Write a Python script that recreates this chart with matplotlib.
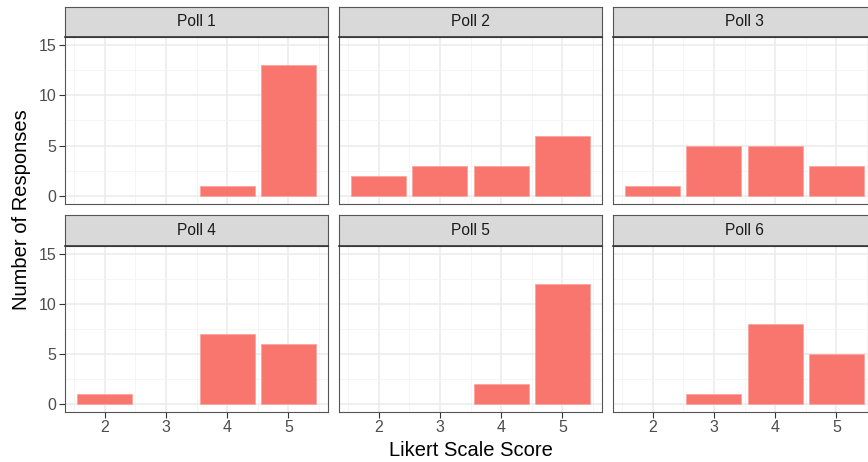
import numpy as np
import matplotlib
matplotlib.use('Agg')
import matplotlib.pyplot as plt

### Data ###

scores = [2, 3, 4, 5]
poll_names = ['Poll 1', 'Poll 2', 'Poll 3', 'Poll 4', 'Poll 5', 'Poll 6']
poll1 = [0, 0, 1, 13]
poll2 = [2, 3, 3, 6]
poll3 = [1, 5, 5, 3]
poll4 = [1, 0, 7, 6]
poll5 = [0, 0, 2, 12]
poll6 = [0, 1, 8, 5]
polls = [poll1, poll2, poll3, poll4, poll5, poll6]

### Style ###

plt.rcParams['font.family'] = ['Liberation Sans', 'DejaVu Sans']
W, H = 868, 462
fig = plt.figure(figsize=(W / 100, H / 100), dpi=100)

bar_color = '#F8766D'
border = '#333333'
grid_major = '#EBEBEB'
tick_text = '#4D4D4D'

# pixel layout of the panels (left, top/bottom of strip and panel)
col_left = [65, 339, 613]
panel_w = 263
rows = [(7, 37, 204), (215, 246, 412)]


def frac(left, top, width, height):
    return [left / W, 1 - (top + height) / H, width / W, height / H]


for i, (name, counts) in enumerate(zip(poll_names, polls)):
    r, c = divmod(i, 3)
    s_top, p_top, p_bot = rows[r]
    left = col_left[c]

    # Panel
    ax = fig.add_axes(frac(left, p_top, panel_w, p_bot - p_top))
    x = [s for s, n in zip(scores, counts) if n > 0]
    h = [n for n in counts if n > 0]
    ax.bar(x, h, width=0.9, color=bar_color, edgecolor='#FBA59F', linewidth=0.6, zorder=3)
    ax.set_xlim(1.355, 5.645)
    ax.set_ylim(-0.75, 15.75)
    ax.set_xticks(scores)
    ax.set_yticks([0, 5, 10, 15])
    ax.set_xticks([1.5, 2.5, 3.5, 4.5, 5.5], minor=True)
    ax.set_yticks([2.5, 7.5, 12.5], minor=True)
    ax.grid(True, which='major', color=grid_major, linewidth=1.1, zorder=0)
    ax.grid(True, which='minor', color='#F4F4F4', linewidth=0.6, zorder=0)
    ax.set_axisbelow(True)
    for sp in ax.spines.values():
        sp.set_color('#555555')
        sp.set_linewidth(0.8)
    ax.tick_params(which='minor', length=0)
    ax.tick_params(which='major', length=4, width=0.8, color=border,
                   labelcolor=tick_text, labelsize=11.5, pad=2)
    if c != 0:
        ax.tick_params(axis='y', length=0, labelleft=False)
    if r != 1:
        ax.tick_params(axis='x', length=0, labelbottom=False)

    # Strip
    sx = fig.add_axes(frac(left, s_top, panel_w, p_top - s_top))
    sx.set_facecolor('#D9D9D9')
    sx.set_xticks([])
    sx.set_yticks([])
    for sp in sx.spines.values():
        sp.set_color('#555555')
        sp.set_linewidth(0.8)
    sx.spines['bottom'].set_color(border)
    sx.spines['bottom'].set_linewidth(1.2)
    sx.text(0.5, 0.5, name, ha='center', va='center', fontsize=11.2, color='#1A1A1A',
            transform=sx.transAxes)

# Axis titles
fig.text(471 / W, 1 - 450 / H, 'Likert Scale Score', ha='center', va='center', fontsize=14.5)
fig.text(22 / W, 1 - 210 / H, 'Number of Responses', ha='center', va='center',
         rotation=90, fontsize=14.5)

plt.savefig('out.png', dpi=100)
